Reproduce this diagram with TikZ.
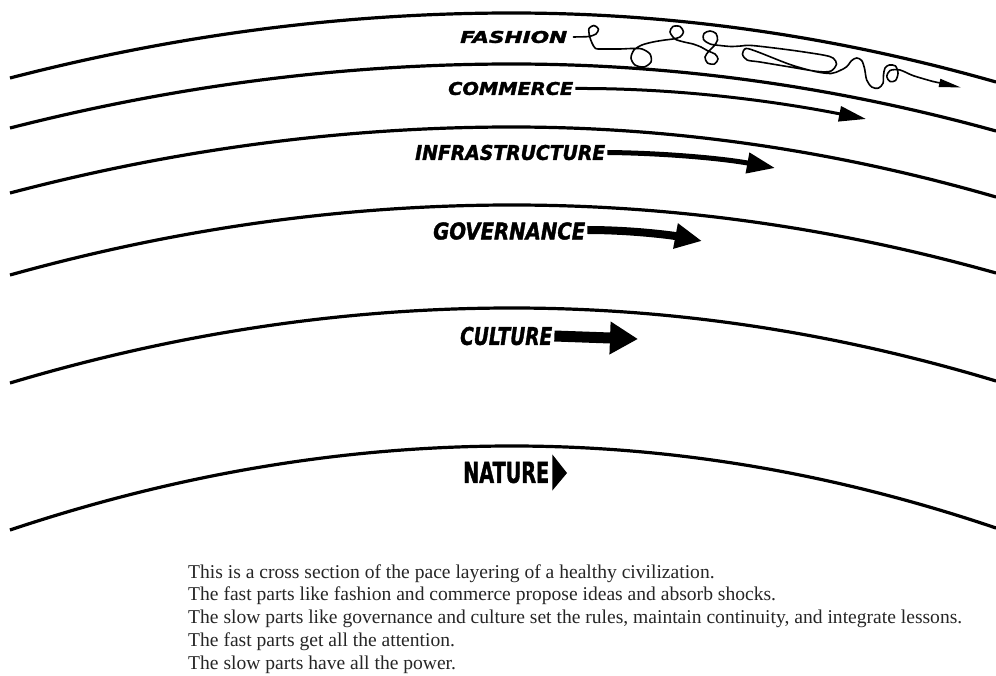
\documentclass[tikz,border=0pt]{standalone}
\usepackage{fontspec}
\setmainfont{Liberation Serif}
\newfontfamily\labfont{DejaVu Sans}[BoldFeatures={FakeBold=1.8}, BoldItalicFeatures={FakeBold=1.8}]
\usetikzlibrary{arrows.meta}
\tikzset{
  band/.style={line width=3.2pt, black},
  lab/.style={inner sep=0pt, anchor=west},
  squig/.style={line width=1.6pt, line join=round, line cap=round},
}
\newcommand\labtext[3]{\resizebox{#1pt}{#2pt}{\labfont\bfseries\itshape #3}}
\newcommand\labtextup[3]{\resizebox{#1pt}{#2pt}{\labfont\bfseries #3}}
\begin{document}
\begin{tikzpicture}[x=1pt,y=-1pt]
\fill[white] (0,0) rectangle (996,676);
\useasboundingbox (0,0) rectangle (996,676);
% layer boundaries
\foreach \l/\p/\r in {78/13/82, 128/64/131, 193/127/197, 275/205/273, 383/308/381, 530/446/528}{
  \draw[band] (10,\l) .. controls (177.3,{\l+(\p-\l)*2/3}) and (344.7,\p) .. (512,\p)
     .. controls (673.3,\p) and (834.7,{\r+(\p-\r)*2/3}) .. (996,\r);
}
% labels
\node[lab] (fash)  at (460,37)    {\labtext{107}{12}{FASHION}};
\node[lab] (comm)  at (448,88.5)  {\labtext{125}{13}{COMMERCE}};
\node[lab] (infra) at (415,152.5) {\labtext{190}{15}{INFRASTRUCTURE}};
\node[lab] (gov)   at (433,231)   {\labtext{152}{17}{GOVERNANCE}};
\node[lab] (cult)  at (460,336)   {\labtext{92}{18}{CULTURE}};
\node[lab] (nat)   at (463,472.5) {\labtextup{86}{21}{NATURE}};
% arrow tips
\coordinate (ftip)  at (961,87.5);
\coordinate (fsq)   at (933,81.5);
\coordinate (ctip)  at (866,119);
\coordinate (itip)  at (775,168);
\coordinate (gtip)  at (702,241);
\coordinate (cutip) at (638,339);
\coordinate (ntip)  at (567,473);
% fashion squiggle
\draw[squig] plot[smooth, tension=0.5] coordinates {
  ([xshift=6pt]fash.east) (586.7,36.7) (590,36.3) (596,34) (598.5,29) (594,25.5) (589,28.5)
  (589.5,36) (592,43) (595.5,48.5) (602,49) (620,49) (632,48.5) (642,49) (650,54) (651,62)
  (644,67) (635,65) (631,58) (634,50) (642,45) (653,42) (665,40) (673,39) (680,37)
  (683.5,32) (680,26.5) (673,26.5) (670,32) (675,39) (684,42) (693,44) (701,47) (708,51)
  (715,54) (718,59) (714.5,64) (707.5,63) (705,57) (709,51) (714,46) (717.5,40) (716,33.5)
  (710,31) (704,33.5) (703.5,39.5) (710,44) (720,45.5) (731,46.5) (741,46) (752,45.5) (790,50)
  (823,55) (833,58) (836.5,64) (831,71) (818,71.5) (790,67) (760,62) (747,60) (742.5,54) (746,48.5)
  (758,52) (790,64.5) (815,71.5) (831,73.5) (840,70.5) (846.7,66.7) (851.7,60.5) (856.7,58)
  (861.7,60.5) (864.5,68.3) (866.7,80) (871.7,87) (878.3,88.2) (883,83.3) (883.5,75)
  (885,68) (889.3,65) (895.5,66) (898,73.3) (895.5,80.5) (890,81.5) (886.8,76.7) (890,70.5)
  (900,70) (913.3,75.7) (fsq)};
\draw[line width=1.6pt, -{Triangle[length=22pt,width=8pt]}] (fsq) -- (ftip);
% pace arrows
\draw[line width=3pt, -{Triangle[length=27pt,width=15pt]}]
  ([xshift=2pt]comm.east) .. controls (673,88) and (769,100) .. (ctip);
\draw[line width=5pt, -{Triangle[length=28pt,width=20pt]}]
  ([xshift=2pt]infra.east) .. controls (660,153) and (720,158) .. (itip);
\draw[line width=8pt, -{Triangle[length=27pt,width=24pt]}]
  ([xshift=2pt,yshift=1pt]gov.east) .. controls (630,230) and (670,235) .. (gtip);
\draw[line width=11pt, -{Triangle[length=28pt,width=31pt]}]
  ([xshift=2pt]cult.east) -- (cutip);
\fill ([xshift=3pt,yshift=18pt]nat.east) -- (ntip) -- ([xshift=3pt,yshift=-18pt]nat.east) -- cycle;
% caption
\node[anchor=base west, inner sep=0pt, text=black!85] (cap) at (188,578)
  {\resizebox{774pt}{!}{\fontsize{10}{11.75}\selectfont\begin{tabular}[t]{@{}l@{}}
  This is a cross section of the pace layering of a healthy civilization.\\
  The fast parts like fashion and commerce propose ideas and absorb shocks.\\
  The slow parts like governance and culture set the rules, maintain continuity, and integrate lessons.\\
  The fast parts get all the attention.\\
  The slow parts have all the power.
  \end{tabular}}};
\end{tikzpicture}
\end{document}
